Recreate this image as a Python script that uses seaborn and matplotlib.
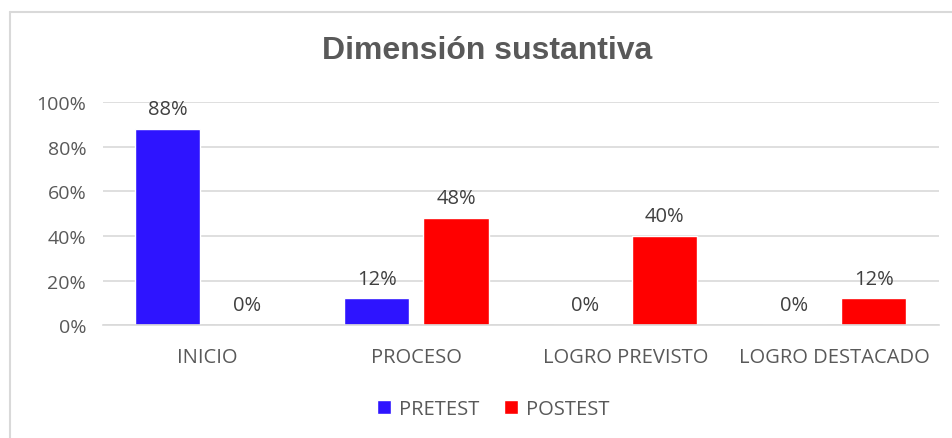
import pandas as pd
import matplotlib.pyplot as plt
import seaborn as sns
from matplotlib.patches import Patch
from matplotlib.ticker import PercentFormatter

niveles = ["INICIO", "PROCESO", "LOGRO PREVISTO", "LOGRO DESTACADO"]
pretest = [0.88, 0.12, 0.00, 0.00]
postest = [0.00, 0.48, 0.40, 0.12]
grupos = ["PRETEST", "POSTEST"]
colores = ["#2E14FF", "#FF0000"]

df = pd.DataFrame({
    "Nivel": niveles * 2,
    "Grupo": [grupos[0]] * 4 + [grupos[1]] * 4,
    "Valor": pretest + postest,
})

sns.set_style("white")
plt.rcParams["font.family"] = ["Open Sans", "DejaVu Sans"]
gris = "#595959"

fig = plt.figure(figsize=(9.52, 4.39), dpi=100)
ax = fig.add_axes([0.108, 0.257, 0.878, 0.508])

sns.barplot(data=df, x="Nivel", y="Valor", hue="Grupo", palette=colores,
            width=0.76, gap=0.18, ax=ax, legend=False, saturation=1)

for cont in ax.containers:
    for bar in cont:
        h = bar.get_height()
        ax.annotate(f"{h:.0%}", (bar.get_x() + bar.get_width() / 2, h),
                    xytext=(0, 7), textcoords="offset points",
                    ha="center", va="bottom", fontsize=14.5, color="#404040")

ax.set_ylim(0, 1)
ax.set_yticks([0, 0.2, 0.4, 0.6, 0.8, 1.0])
ax.yaxis.set_major_formatter(PercentFormatter(1.0, decimals=0))
ax.grid(axis="y", color="#d9d9d9", linewidth=1.2)
ax.set_axisbelow(True)
for s in ["left", "right", "top"]:
    ax.spines[s].set_visible(False)
ax.spines["bottom"].set_color("#d9d9d9")
ax.spines["bottom"].set_linewidth(1.2)
ax.tick_params(axis="both", length=0, colors=gris)
ax.tick_params(axis="x", pad=16, labelsize=14.5)
ax.tick_params(axis="y", pad=12, labelsize=14)
ax.set_xlabel("")
ax.set_ylabel("")

fig.text(0.512, 0.884, "Dimensión sustantiva", ha="center", va="center",
         fontsize=23, fontweight="bold", color=gris,
         family=["Liberation Sans", "DejaVu Sans"])

handles = [Patch(facecolor=c, label=g) for c, g in zip(colores, grupos)]
fig.legend(handles=handles, loc="center", bbox_to_anchor=(0.518, 0.066), ncol=2,
           frameon=False, fontsize=14.5, labelcolor=gris, handlelength=0.7,
           handleheight=0.7, handletextpad=0.4, columnspacing=1.2)

# marco del gráfico
fig.add_artist(plt.Line2D([0.0105, 0.0105], [0, 0.97], transform=fig.transFigure,
                          color="#d9d9d9", linewidth=1.5))
fig.add_artist(plt.Line2D([0.0105, 1], [0.97, 0.97], transform=fig.transFigure,
                          color="#d9d9d9", linewidth=1.5))

fig.savefig("out.png", dpi=100)
